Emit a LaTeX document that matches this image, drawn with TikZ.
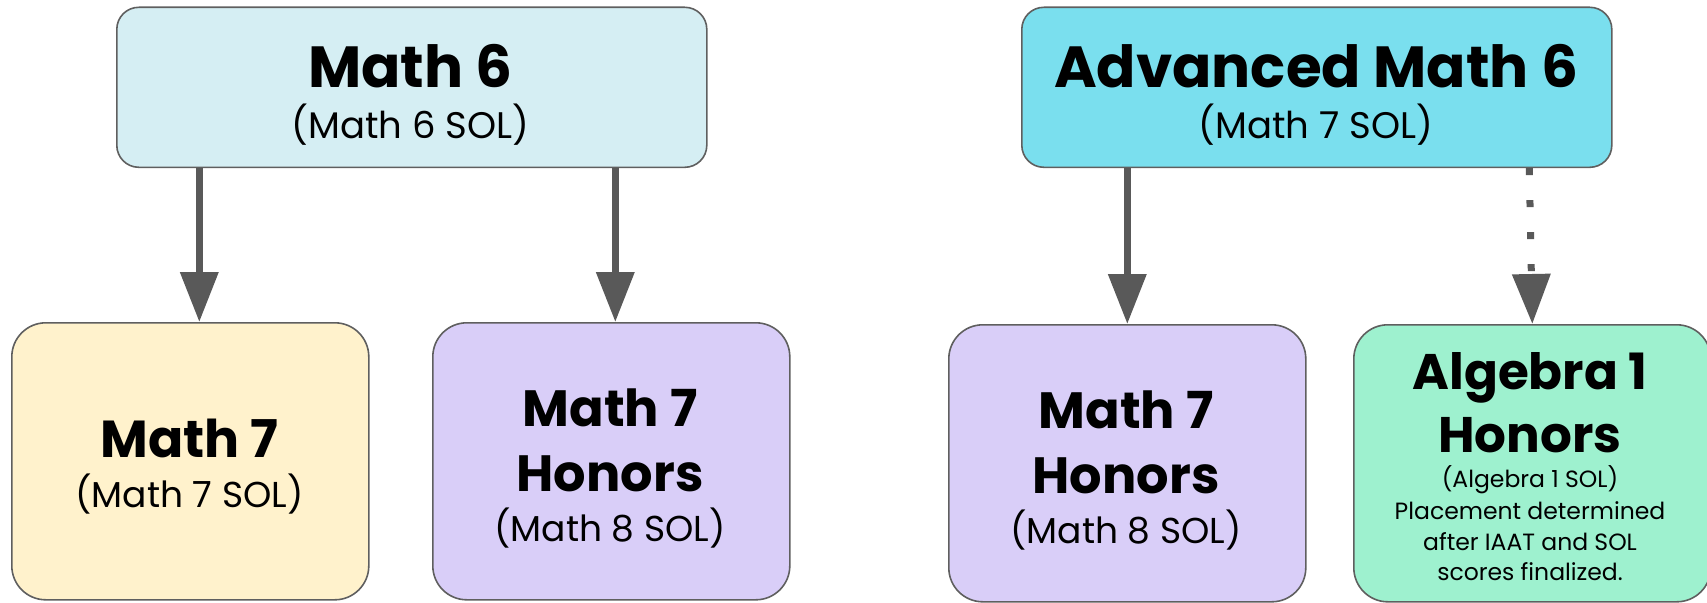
\documentclass[tikz,border=0pt]{standalone}
\usepackage{fontspec}
\setmainfont{Poppins}
\usetikzlibrary{arrows.meta}
\definecolor{edgegray}{HTML}{5F5F5F}
\definecolor{arrgray}{HTML}{595959}
\definecolor{cyanlight}{HTML}{D5EEF3}
\definecolor{cyandark}{HTML}{7ADFEE}
\definecolor{yel}{HTML}{FFF2CC}
\definecolor{lav}{HTML}{D9CEF8}
\definecolor{mint}{HTML}{9EF1CF}
\begin{document}
\begin{tikzpicture}[x=1pt,y=-1pt,
  box/.style={draw=edgegray, line width=1.6pt, rounded corners=#1, inner sep=0pt, anchor=north west},
  topbox/.style={box=22pt, minimum width=590pt, minimum height=160pt},
  lowbox/.style={box=34pt, minimum width=357pt, minimum height=277pt},
  ttl/.style={font=\fontsize{#1}{#1}\selectfont\bfseries, anchor=base, inner sep=0pt},
  sub/.style={font=\fontsize{#1}{#1}\selectfont, anchor=base, inner sep=0pt},
  conn/.style={draw=arrgray, line width=7pt, -{Triangle[width=37pt,length=50pt]}},
  dotconn/.style={conn, dash pattern=on 7pt off 25pt}
]
\useasboundingbox (0,0) rectangle (1707,602);
% boxes
\node[topbox, fill=cyanlight] (m6) at (116,6.5) {};
\node[topbox, fill=cyandark] (am6) at (1021,6.5) {};
\node[lowbox, fill=yel] (m7) at (11,322) {};
\node[lowbox, fill=lav] (m7h) at (432,322) {};
\node[lowbox, fill=lav] (m7hb) at (948,324) {};
\node[lowbox, fill=mint] (alg) at (1353,324) {};
% texts
\node[ttl=58] (m6a) at (410.5,87) {Math 6};
\node[sub=37] (m6b) at (410.5,138) {(Math 6 SOL)};
\node[ttl=58] (am6a) at (1316,87) {Advanced Math 6};
\node[sub=37] (am6b) at (1316,138) {(Math 7 SOL)};
\node[ttl=52] (m7a) at (189.5,457) {Math 7};
\node[sub=36] (m7b) at (189.5,507) {(Math 7 SOL)};
\node[ttl=51] (m7ha) at (610,426) {Math 7};
\node[ttl=51] (m7hb1) at (610,491) {Honors};
\node[sub=36] (m7hc) at (610,541) {(Math 8 SOL)};
\node[ttl=51] (m7hba) at (1126,428) {Math 7};
\node[ttl=51] (m7hbb) at (1126,493) {Honors};
\node[sub=36] (m7hbc) at (1126,543) {(Math 8 SOL)};
\node[ttl=50] (alga) at (1530,389) {Algebra 1};
\node[ttl=50] (algb) at (1530,452) {Honors};
\node[sub=23.5] (algc) at (1530,487) {(Algebra 1 SOL)};
\node[sub=23.5] (algd) at (1530,519) {Placement determined};
\node[sub=23.5] (alge) at (1530,550) {after IAAT and SOL};
\node[sub=23.5] (algf) at (1530,580) {scores finalized.};
% connectors
\draw[conn] ([xshift=9pt]m7.north |- m6.south) -- ([xshift=9pt]m7.north);
\draw[conn] ([xshift=4pt]m7h.north |- m6.south) -- ([xshift=4pt]m7h.north);
\draw[conn] (m7hb.north |- am6.south) -- (m7hb.north);
\draw[dotconn] ([xshift=-3pt]alg.north |- am6.south) -- (alg.north);
\end{tikzpicture}
\end{document}
